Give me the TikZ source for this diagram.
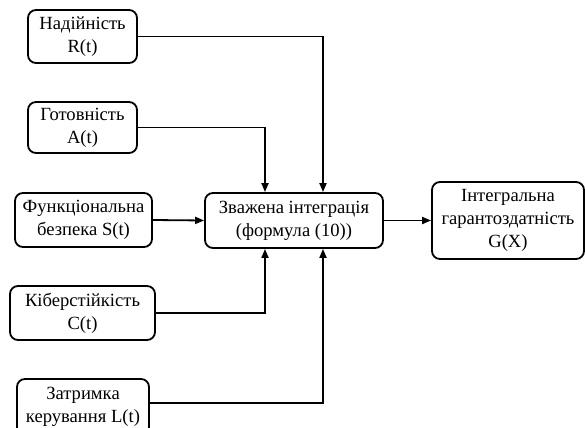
\documentclass[tikz,border=0pt]{standalone}
\usepackage{fontspec}
\setmainfont{Liberation Serif}
\usetikzlibrary{arrows.meta}

\begin{document}
\begin{tikzpicture}[x=0.5pt,y=-0.5pt,
  blk/.style={draw=black,line width=0.9pt,rounded corners=4pt,align=center,
    font=\fontsize{9.3}{11.5}\selectfont,inner sep=0pt},
  arr/.style={draw=black,line width=0.9pt,-{Triangle[length=4.5pt,width=3.5pt]}}]
\useasboundingbox (0,0) rectangle (585,428);
\clip (0,0) rectangle (585,428);

% inputs
\node[blk,minimum width=54.5pt,minimum height=26.5pt] (rel) at (82.5,36.5) {Надійність\\R(t)};
\node[blk,minimum width=54.5pt,minimum height=25.5pt] (avail) at (82.5,127.5) {Готовність\\A(t)};
\node[blk,minimum width=68.5pt,minimum height=27pt] (safety) at (83.5,220) {Функціональна\\безпека S(t)};
\node[blk,minimum width=72.5pt,minimum height=27pt] (cyber) at (82.5,313) {Кіберстійкість\\C(t)};
\node[blk,minimum width=66pt,minimum height=28pt] (delay) at (83,407) {Затримка\\керування L(t)};

% integration and result
\node[blk,minimum width=89pt,minimum height=27.5pt] (integ) at (294,220.5) {Зважена інтеграція\\(формула (10))};
\node[blk,minimum width=76pt,minimum height=38.5pt] (total) at (508,220.5) {Інтегральна\\гарантоздатність\\G(X)};

\draw[arr] (rel.east) -| ([xshift=14.5pt]integ.north);
\draw[arr] (avail.east) -| ([xshift=-14.5pt]integ.north);
\draw[arr] (safety.east) -- (integ.west);
\draw[arr] (cyber.east) -| ([xshift=-14.5pt]integ.south);
\draw[arr] ([yshift=2pt]delay.east) -| ([xshift=14.5pt]integ.south);
\draw[arr] (integ.east) -- (total.west);

\end{tikzpicture}
\end{document}
